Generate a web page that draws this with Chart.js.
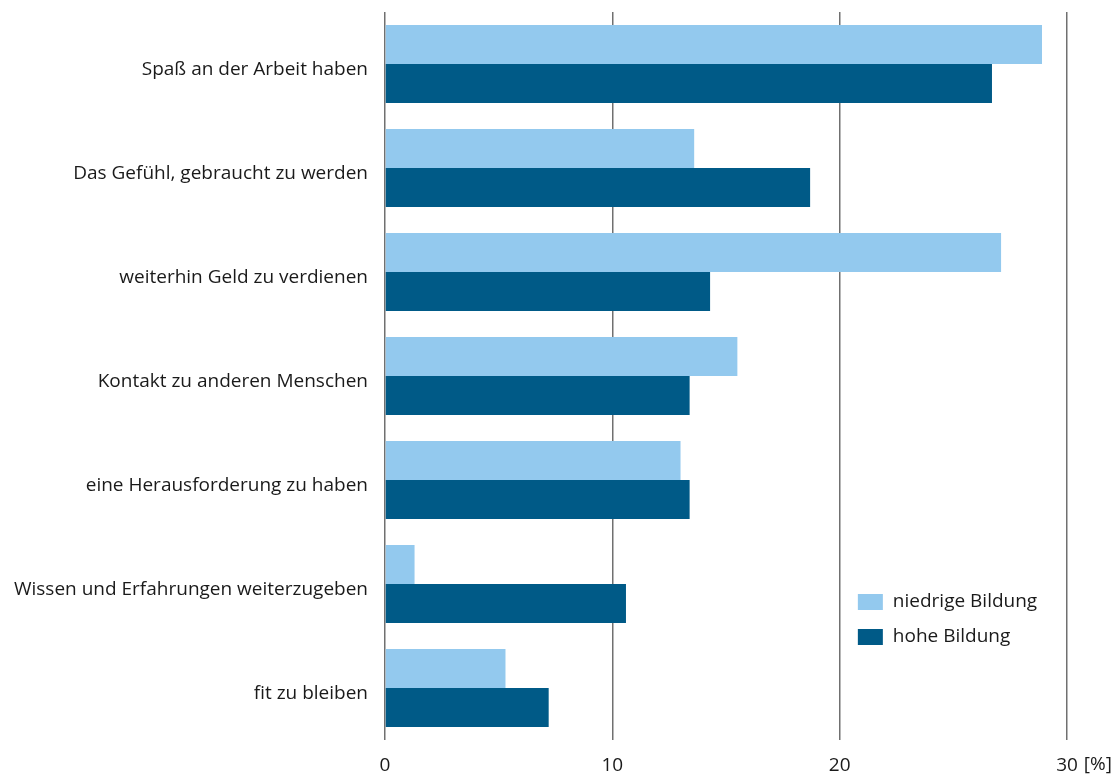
<!DOCTYPE html>
<html>
<head>
<meta charset="utf-8">
<script src="https://cdn.jsdelivr.net/npm/chart.js@4/dist/chart.umd.min.js"></script>
<style>
  html, body { margin: 0; padding: 0; background: #fff; }
  #wrap { width: 1117px; height: 774px; }
</style>
</head>
<body>
<div id="wrap"><canvas id="motivChart"></canvas></div>
<script>
const categories = [
  'Spaß an der Arbeit haben',
  'Das Gefühl, gebraucht zu werden',
  'weiterhin Geld zu verdienen',
  'Kontakt zu anderen Menschen',
  'eine Herausforderung zu haben',
  'Wissen und Erfahrungen weiterzugeben',
  'fit zu bleiben'
];
const niedrigeBildung = [28.9, 13.6, 27.1, 15.5, 13.0, 1.3, 5.3];
const hoheBildung = [26.7, 18.7, 14.3, 13.4, 13.4, 10.6, 7.2];
const xTicks = [0, 10, 20, 30];
const unitLabel = '[%]';

const FONT = '"Open Sans", "Noto Sans", sans-serif';
const TEXT = '#1a1a1a';

// legend drawn inside the plot area, lower right
const innerLegend = {
  id: 'innerLegend',
  afterDraw(chart) {
    const ctx = chart.ctx;
    const x = chart.scales.x.getPixelForValue(20.8);
    let y = chart.chartArea.top + 590;
    ctx.save();
    ctx.font = '19px ' + FONT;
    ctx.textBaseline = 'middle';
    chart.data.datasets.forEach(ds => {
      ctx.fillStyle = ds.backgroundColor;
      ctx.fillRect(x, y - 8, 25, 16);
      ctx.fillStyle = TEXT;
      ctx.fillText(ds.label, x + 35, y);
      y += 35;
    });
    ctx.restore();
  }
};

// unit after the last tick label
const unitPlugin = {
  id: 'unitPlugin',
  afterDraw(chart) {
    const sx = chart.scales.x;
    const ctx = chart.ctx;
    ctx.save();
    ctx.font = '19px ' + FONT;
    ctx.fillStyle = TEXT;
    ctx.textBaseline = 'middle';
    const last = xTicks[xTicks.length - 1];
    const lx = sx.getPixelForValue(last);
    const w = ctx.measureText(String(last)).width;
    ctx.fillText(unitLabel, lx + w / 2 + 6, 765);
    ctx.restore();
  }
};

new Chart(document.getElementById('motivChart'), {
  type: 'bar',
  data: {
    labels: categories,
    datasets: [
      { label: 'niedrige Bildung', data: niedrigeBildung, backgroundColor: 'rgb(147,201,238)' },
      { label: 'hohe Bildung', data: hoheBildung, backgroundColor: 'rgb(0,90,135)' }
    ]
  },
  options: {
    indexAxis: 'y',
    responsive: true,
    maintainAspectRatio: false,
    animation: false,
    datasets: {
      bar: { categoryPercentage: 0.75, barPercentage: 1.0 }
    },
    layout: { padding: { top: 12, right: 50, left: 0, bottom: 0 } },
    plugins: {
      legend: { display: false },
      tooltip: { enabled: false }
    },
    scales: {
      x: {
        min: 0,
        max: 30,
        afterBuildTicks(scale) {
          scale.ticks = xTicks.map(v => ({ value: v }));
        },
        afterFit(scale) { scale.height = 34; },
        grid: { color: '#707070', lineWidth: 1.5, drawTicks: false },
        border: { display: false },
        ticks: {
          padding: 14,
          color: TEXT,
          font: { family: FONT, size: 19 }
        }
      },
      y: {
        afterFit(scale) {
          scale.width = 385;
          scale.paddingTop = 0;
          scale.paddingBottom = 0;
        },
        grid: { display: false, drawTicks: false },
        border: { display: false },
        ticks: {
          padding: 17,
          labelOffset: 6,
          color: TEXT,
          font: { family: FONT, size: 19 }
        }
      }
    }
  },
  plugins: [innerLegend, unitPlugin]
});
</script>
</body>
</html>
